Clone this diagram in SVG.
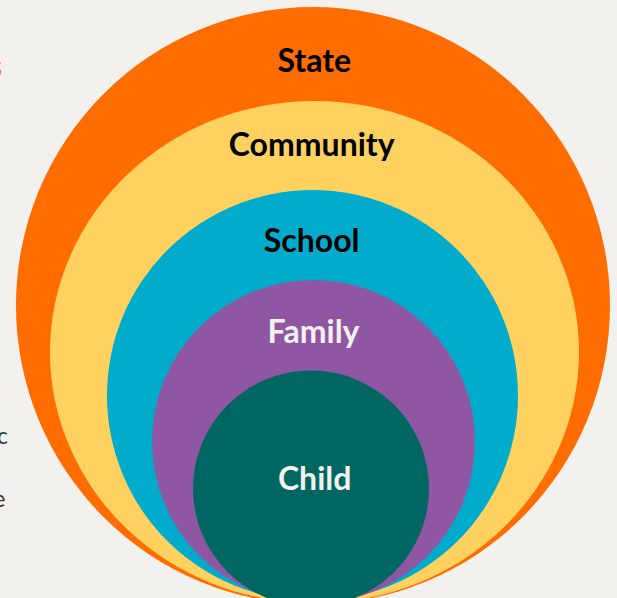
<svg xmlns="http://www.w3.org/2000/svg" width="617" height="598" viewBox="0 0 617 598">
<style>
.lbl{font-family:Lato,"Liberation Sans",sans-serif;font-weight:bold;font-size:32px;text-anchor:middle}
.dark{fill:#000}
.light{fill:#F2F1EE}
.frag{font-family:Lato,"Liberation Sans",sans-serif;font-size:23px;fill:#333;text-anchor:end}
</style>
<rect width="617" height="598" fill="#F2F1EE"/>
<text x="2" y="77" style="font-family:Lato,'Liberation Sans',sans-serif;font-weight:bold;font-size:31px;fill:#FF6D00;text-anchor:end">s</text>
<text class="frag" x="8" y="443.5">c</text>
<text class="frag" x="5.5" y="507">e</text>
<g id="state"><ellipse cx="313" cy="305.5" rx="297" ry="298.5" fill="#FF6D00"/><text class="lbl dark" x="314.2" y="71.7">State</text></g>
<g id="community"><ellipse cx="314.5" cy="352" rx="264.5" ry="251" fill="#FFD260"/><text class="lbl dark" x="311.7" y="155.7">Community</text></g>
<g id="school"><circle cx="312.5" cy="395.5" r="205.5" fill="#00ABCB"/><text class="lbl dark" x="311.7" y="252.3">School</text></g>
<g id="family"><circle cx="313.5" cy="441.5" r="161.5" fill="#8F57A3"/><text class="lbl light" x="313.5" y="343.3">Family</text></g>
<g id="child"><circle cx="311" cy="488.5" r="118" fill="#006661"/><text class="lbl light" x="314.7" y="490">Child</text></g>
<g id="connectors"/>
</svg>
